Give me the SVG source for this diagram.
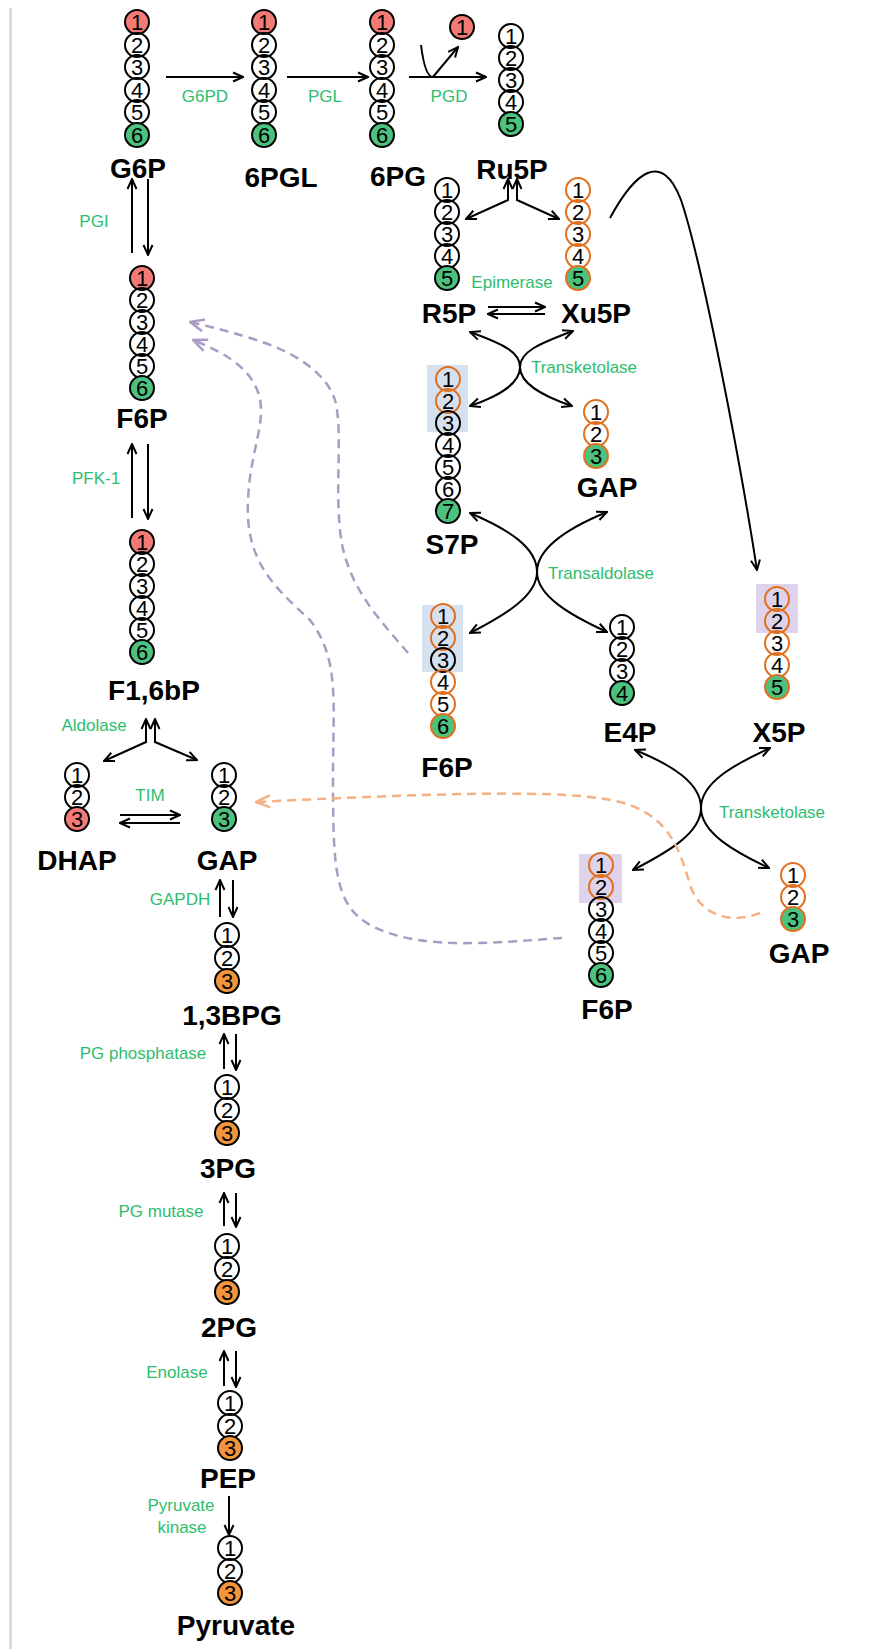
<svg xmlns="http://www.w3.org/2000/svg" width="881" height="1649" viewBox="0 0 881 1649">
<defs>
<style>
.c{fill:none;stroke:#000;stroke-width:2}
.co{fill:none;stroke:#e0701f;stroke-width:2}
.r{fill:#f47a76}
.g{fill:#4cc27e}
.of{fill:#f3953a}
.d{font-family:"Liberation Sans",Arial,sans-serif;font-size:22px;text-anchor:middle;fill:#000}
.lb{font-family:"Liberation Sans",Arial,sans-serif;font-size:28px;font-weight:bold;text-anchor:middle;fill:#000}
.en{font-family:"Liberation Sans",Arial,sans-serif;font-size:17px;text-anchor:middle;fill:#2ebd6e}
.ar{fill:none;stroke:#000;stroke-width:2;marker-end:url(#ah)}
.ar2{fill:none;stroke:#000;stroke-width:2;marker-start:url(#ah);marker-end:url(#ah)}
.pd{fill:none;stroke:#a99cc4;stroke-width:2.5;stroke-dasharray:9 6;marker-end:url(#ap)}
.od{fill:none;stroke:#f4b183;stroke-width:2.5;stroke-dasharray:9 6;marker-end:url(#ao)}
</style>
<marker id="ah" viewBox="0 0 12 12" refX="11" refY="6" markerWidth="12" markerHeight="12" markerUnits="userSpaceOnUse" orient="auto-start-reverse"><path d="M1,1.5 L11,6 L1,10.5" fill="none" stroke="#000" stroke-width="2"/></marker>
<marker id="ap" viewBox="0 0 16 16" refX="15" refY="8" markerWidth="16" markerHeight="16" markerUnits="userSpaceOnUse" orient="auto"><path d="M1,2 L15,8 L1,14" fill="none" stroke="#a99cc4" stroke-width="2.5"/></marker>
<marker id="ao" viewBox="0 0 16 16" refX="15" refY="8" markerWidth="16" markerHeight="16" markerUnits="userSpaceOnUse" orient="auto"><path d="M1,2 L15,8 L1,14" fill="none" stroke="#f4b183" stroke-width="2.5"/></marker>
</defs>
<rect x="0" y="0" width="881" height="1649" fill="#fff"/>
<line x1="10.5" y1="8" x2="10.5" y2="1649" stroke="#d4d4d4" stroke-width="2.5"/>

<!-- highlight boxes -->
<rect x="427" y="365" width="41" height="67" fill="#d6e1f0"/>
<rect x="422" y="605" width="41" height="67" fill="#d6e1f0"/>
<rect x="756" y="584" width="42" height="49" fill="#ded3ea"/>
<rect x="579" y="854" width="43" height="49" fill="#ded3ea"/>

<g id="connectors">
<!-- top row -->
<line class="ar" x1="166" y1="77" x2="243" y2="77"/>
<line class="ar" x1="287" y1="77" x2="368" y2="77"/>
<line class="ar" x1="409" y1="77" x2="486" y2="77"/>
<path class="ar" d="M421,45 Q425,77 433,77 L458,47"/>
<!-- PGI / PFK -->
<line class="ar" x1="132" y1="253" x2="132" y2="179"/>
<line class="ar" x1="148" y1="179" x2="148" y2="255"/>
<line class="ar" x1="132" y1="518" x2="132" y2="444"/>
<line class="ar" x1="148" y1="444" x2="148" y2="519"/>
<!-- Aldolase -->
<path class="ar2" d="M146,719 L146,742 L104,761"/>
<path class="ar2" d="M155,719 L155,742 L197,760"/>
<!-- TIM -->
<line class="ar" x1="120" y1="815" x2="180" y2="815"/>
<line class="ar" x1="180" y1="823" x2="120" y2="823"/>
<!-- GAPDH etc -->
<line class="ar" x1="220" y1="917" x2="220" y2="880"/>
<line class="ar" x1="233" y1="880" x2="233" y2="917"/>
<line class="ar" x1="224" y1="1069" x2="224" y2="1034"/>
<line class="ar" x1="236" y1="1034" x2="236" y2="1070"/>
<line class="ar" x1="224" y1="1226" x2="224" y2="1193"/>
<line class="ar" x1="236" y1="1193" x2="236" y2="1227"/>
<line class="ar" x1="224" y1="1386" x2="224" y2="1351"/>
<line class="ar" x1="236" y1="1351" x2="236" y2="1387"/>
<line class="ar" x1="229" y1="1496" x2="229" y2="1535"/>
<!-- Ru5P split -->
<path class="ar2" d="M508,179 L508,200 L466,219"/>
<path class="ar2" d="M517,179 L517,200 L559,219"/>
<!-- Epimerase -->
<line class="ar" x1="488" y1="307" x2="545" y2="307"/>
<line class="ar" x1="545" y1="314" x2="488" y2="314"/>
<!-- Transketolase upper -->
<path class="ar2" d="M470,332 C503,344 520,352 520,367 C520,383 540,395 572,406"/>
<path class="ar2" d="M573,331 C538,344 520,352 520,367 C520,383 502,395 470,406"/>
<!-- Transaldolase -->
<path class="ar2" d="M470,513 C510,530 537,548 537,572 C537,596 570,615 607,632"/>
<path class="ar2" d="M607,512 C568,528 537,548 537,572 C537,596 505,615 470,633"/>
<!-- Transketolase lower -->
<path class="ar2" d="M635,750 C672,765 701,783 701,808 C701,833 735,852 769,868"/>
<path class="ar2" d="M770,748 C733,765 701,783 701,808 C701,833 668,852 633,870"/>
<!-- long arrow Xu5P -> X5P -->
<path class="ar" d="M610,218 C635,172 662,150 681,200 C702,262 740,460 757,570"/>
<!-- dashed -->
<path class="pd" d="M562,938 C500,942 420,952 370,925 C335,905 333,870 333,780 C333,700 340,660 310,620 C272,585 245,560 248,500 C250,450 268,420 258,392 C248,365 222,352 193,340"/>
<path class="pd" d="M408,653 C380,620 345,585 340,530 C335,480 343,430 335,400 C325,370 290,350 250,338 C225,330 206,326 190,322"/>
<path class="od" d="M760,913 C730,925 700,915 690,885 C680,850 670,820 630,805 C590,792 520,789 256,802"/>
</g>

<g id="enzymes">
<text class="en" x="205" y="102">G6PD</text>
<text class="en" x="325" y="102">PGL</text>
<text class="en" x="449" y="102">PGD</text>
<text class="en" x="94" y="227">PGI</text>
<text class="en" x="96" y="484">PFK-1</text>
<text class="en" x="94" y="731">Aldolase</text>
<text class="en" x="150" y="801">TIM</text>
<text class="en" x="180" y="905">GAPDH</text>
<text class="en" x="143" y="1059">PG phosphatase</text>
<text class="en" x="161" y="1217">PG mutase</text>
<text class="en" x="177" y="1378">Enolase</text>
<text class="en" x="181" y="1511">Pyruvate</text>
<text class="en" x="182" y="1533">kinase</text>
<text class="en" x="512" y="288">Epimerase</text>
<text class="en" x="584" y="373">Transketolase</text>
<text class="en" x="601" y="579">Transaldolase</text>
<text class="en" x="772" y="818">Transketolase</text>
</g>

<g id="G6P">
<circle class="c r" cx="137" cy="22" r="12"/><circle class="c" cx="137" cy="45" r="12"/><circle class="c" cx="137" cy="67" r="12"/><circle class="c" cx="137" cy="90" r="12"/><circle class="c" cx="137" cy="112" r="12"/><circle class="c g" cx="137" cy="135" r="12"/>
<text class="d" x="137" y="30">1</text><text class="d" x="137" y="53">2</text><text class="d" x="137" y="75">3</text><text class="d" x="137" y="98">4</text><text class="d" x="137" y="120">5</text><text class="d" x="137" y="143">6</text>
<text class="lb" x="138" y="178">G6P</text>
</g>
<g id="PGL6">
<circle class="c r" cx="264" cy="22" r="12"/><circle class="c" cx="264" cy="45" r="12"/><circle class="c" cx="264" cy="67" r="12"/><circle class="c" cx="264" cy="90" r="12"/><circle class="c" cx="264" cy="112" r="12"/><circle class="c g" cx="264" cy="135" r="12"/>
<text class="d" x="264" y="30">1</text><text class="d" x="264" y="53">2</text><text class="d" x="264" y="75">3</text><text class="d" x="264" y="98">4</text><text class="d" x="264" y="120">5</text><text class="d" x="264" y="143">6</text>
<text class="lb" x="281" y="187">6PGL</text>
</g>
<g id="PG6">
<circle class="c r" cx="382" cy="22" r="12"/><circle class="c" cx="382" cy="45" r="12"/><circle class="c" cx="382" cy="67" r="12"/><circle class="c" cx="382" cy="90" r="12"/><circle class="c" cx="382" cy="112" r="12"/><circle class="c g" cx="382" cy="135" r="12"/>
<text class="d" x="382" y="30">1</text><text class="d" x="382" y="53">2</text><text class="d" x="382" y="75">3</text><text class="d" x="382" y="98">4</text><text class="d" x="382" y="120">5</text><text class="d" x="382" y="143">6</text>
<text class="lb" x="398" y="186">6PG</text>
</g>
<g id="CO2">
<circle class="c r" cx="462" cy="27" r="12"/><text class="d" x="462" y="35">1</text>
</g>
<g id="Ru5P">
<circle class="c" cx="511" cy="36" r="12"/><circle class="c" cx="511" cy="58" r="12"/><circle class="c" cx="511" cy="80" r="12"/><circle class="c" cx="511" cy="102" r="12"/><circle class="c g" cx="511" cy="124" r="12"/>
<text class="d" x="511" y="44">1</text><text class="d" x="511" y="66">2</text><text class="d" x="511" y="88">3</text><text class="d" x="511" y="110">4</text><text class="d" x="511" y="132">5</text>
<text class="lb" x="512" y="179">Ru5P</text>
</g>
<g id="F6P">
<circle class="c r" cx="142" cy="278" r="12"/><circle class="c" cx="142" cy="300" r="12"/><circle class="c" cx="142" cy="322" r="12"/><circle class="c" cx="142" cy="344" r="12"/><circle class="c" cx="142" cy="366" r="12"/><circle class="c g" cx="142" cy="388" r="12"/>
<text class="d" x="142" y="286">1</text><text class="d" x="142" y="308">2</text><text class="d" x="142" y="330">3</text><text class="d" x="142" y="352">4</text><text class="d" x="142" y="374">5</text><text class="d" x="142" y="396">6</text>
<text class="lb" x="142" y="428">F6P</text>
</g>
<g id="F16bP">
<circle class="c r" cx="142" cy="542" r="12"/><circle class="c" cx="142" cy="564" r="12"/><circle class="c" cx="142" cy="586" r="12"/><circle class="c" cx="142" cy="608" r="12"/><circle class="c" cx="142" cy="630" r="12"/><circle class="c g" cx="142" cy="652" r="12"/>
<text class="d" x="142" y="550">1</text><text class="d" x="142" y="572">2</text><text class="d" x="142" y="594">3</text><text class="d" x="142" y="616">4</text><text class="d" x="142" y="638">5</text><text class="d" x="142" y="660">6</text>
<text class="lb" x="154" y="700">F1,6bP</text>
</g>
<g id="DHAP">
<circle class="c" cx="77" cy="775" r="12"/><circle class="c" cx="77" cy="797" r="12"/><circle class="c r" cx="77" cy="819" r="12"/>
<text class="d" x="77" y="783">1</text><text class="d" x="77" y="805">2</text><text class="d" x="77" y="827">3</text>
<text class="lb" x="77" y="870">DHAP</text>
</g>
<g id="GAP1">
<circle class="c" cx="224" cy="775" r="12"/><circle class="c" cx="224" cy="797" r="12"/><circle class="c g" cx="224" cy="819" r="12"/>
<text class="d" x="224" y="783">1</text><text class="d" x="224" y="805">2</text><text class="d" x="224" y="827">3</text>
<text class="lb" x="227" y="870">GAP</text>
</g>
<g id="BPG13">
<circle class="c" cx="227" cy="935" r="12"/><circle class="c" cx="227" cy="958" r="12"/><circle class="c of" cx="227" cy="981" r="12"/>
<text class="d" x="227" y="943">1</text><text class="d" x="227" y="966">2</text><text class="d" x="227" y="989">3</text>
<text class="lb" x="232" y="1025">1,3BPG</text>
</g>
<g id="PG3">
<circle class="c" cx="227" cy="1087" r="12"/><circle class="c" cx="227" cy="1110" r="12"/><circle class="c of" cx="227" cy="1133" r="12"/>
<text class="d" x="227" y="1095">1</text><text class="d" x="227" y="1118">2</text><text class="d" x="227" y="1141">3</text>
<text class="lb" x="228" y="1178">3PG</text>
</g>
<g id="PG2">
<circle class="c" cx="227" cy="1246" r="12"/><circle class="c" cx="227" cy="1269" r="12"/><circle class="c of" cx="227" cy="1292" r="12"/>
<text class="d" x="227" y="1254">1</text><text class="d" x="227" y="1277">2</text><text class="d" x="227" y="1300">3</text>
<text class="lb" x="229" y="1337">2PG</text>
</g>
<g id="PEP">
<circle class="c" cx="230" cy="1403" r="12"/><circle class="c" cx="230" cy="1426" r="12"/><circle class="c of" cx="230" cy="1448" r="12"/>
<text class="d" x="230" y="1411">1</text><text class="d" x="230" y="1434">2</text><text class="d" x="230" y="1456">3</text>
<text class="lb" x="228" y="1488">PEP</text>
</g>
<g id="Pyruvate">
<circle class="c" cx="230" cy="1548" r="12"/><circle class="c" cx="230" cy="1571" r="12"/><circle class="c of" cx="230" cy="1593" r="12"/>
<text class="d" x="230" y="1556">1</text><text class="d" x="230" y="1579">2</text><text class="d" x="230" y="1601">3</text>
<text class="lb" x="236" y="1635">Pyruvate</text>
</g>
<g id="R5P">
<circle class="c" cx="447" cy="190" r="12"/><circle class="c" cx="447" cy="212" r="12"/><circle class="c" cx="447" cy="234" r="12"/><circle class="c" cx="447" cy="256" r="12"/><circle class="c g" cx="447" cy="278" r="12"/>
<text class="d" x="447" y="198">1</text><text class="d" x="447" y="220">2</text><text class="d" x="447" y="242">3</text><text class="d" x="447" y="264">4</text><text class="d" x="447" y="286">5</text>
<text class="lb" x="449" y="323">R5P</text>
</g>
<g id="Xu5P">
<circle class="co" cx="578" cy="190" r="12"/><circle class="co" cx="578" cy="212" r="12"/><circle class="co" cx="578" cy="234" r="12"/><circle class="co" cx="578" cy="256" r="12"/><circle class="co g" cx="578" cy="278" r="12"/>
<text class="d" x="578" y="198">1</text><text class="d" x="578" y="220">2</text><text class="d" x="578" y="242">3</text><text class="d" x="578" y="264">4</text><text class="d" x="578" y="286">5</text>
<text class="lb" x="596" y="323">Xu5P</text>
</g>
<g id="S7P">
<circle class="co" cx="448" cy="379" r="12"/><circle class="co" cx="448" cy="401" r="12"/><circle class="c" cx="448" cy="423" r="12"/><circle class="c" cx="448" cy="445" r="12"/><circle class="c" cx="448" cy="467" r="12"/><circle class="c" cx="448" cy="489" r="12"/><circle class="c g" cx="448" cy="511" r="12"/>
<text class="d" x="448" y="387">1</text><text class="d" x="448" y="409">2</text><text class="d" x="448" y="431">3</text><text class="d" x="448" y="453">4</text><text class="d" x="448" y="475">5</text><text class="d" x="448" y="497">6</text><text class="d" x="448" y="519">7</text>
<text class="lb" x="452" y="554">S7P</text>
</g>
<g id="GAP2">
<circle class="co" cx="596" cy="412" r="12"/><circle class="co" cx="596" cy="434" r="12"/><circle class="co g" cx="596" cy="456" r="12"/>
<text class="d" x="596" y="420">1</text><text class="d" x="596" y="442">2</text><text class="d" x="596" y="464">3</text>
<text class="lb" x="607" y="497">GAP</text>
</g>
<g id="F6P2">
<circle class="co" cx="443" cy="616" r="12"/><circle class="co" cx="443" cy="638" r="12"/><circle class="c" cx="443" cy="660" r="12"/><circle class="co" cx="443" cy="682" r="12"/><circle class="co" cx="443" cy="704" r="12"/><circle class="co g" cx="443" cy="726" r="12"/>
<text class="d" x="443" y="624">1</text><text class="d" x="443" y="646">2</text><text class="d" x="443" y="668">3</text><text class="d" x="443" y="690">4</text><text class="d" x="443" y="712">5</text><text class="d" x="443" y="734">6</text>
<text class="lb" x="447" y="777">F6P</text>
</g>
<g id="E4P">
<circle class="c" cx="622" cy="627" r="12"/><circle class="c" cx="622" cy="649" r="12"/><circle class="c" cx="622" cy="671" r="12"/><circle class="c g" cx="622" cy="693" r="12"/>
<text class="d" x="622" y="635">1</text><text class="d" x="622" y="657">2</text><text class="d" x="622" y="679">3</text><text class="d" x="622" y="701">4</text>
<text class="lb" x="630" y="742">E4P</text>
</g>
<g id="X5P">
<circle class="co" cx="777" cy="599" r="12"/><circle class="co" cx="777" cy="621" r="12"/><circle class="co" cx="777" cy="643" r="12"/><circle class="co" cx="777" cy="665" r="12"/><circle class="co g" cx="777" cy="687" r="12"/>
<text class="d" x="777" y="607">1</text><text class="d" x="777" y="629">2</text><text class="d" x="777" y="651">3</text><text class="d" x="777" y="673">4</text><text class="d" x="777" y="695">5</text>
<text class="lb" x="779" y="742">X5P</text>
</g>
<g id="F6P3">
<circle class="co" cx="601" cy="865" r="12"/><circle class="co" cx="601" cy="887" r="12"/><circle class="c" cx="601" cy="909" r="12"/><circle class="c" cx="601" cy="931" r="12"/><circle class="c" cx="601" cy="953" r="12"/><circle class="c g" cx="601" cy="975" r="12"/>
<text class="d" x="601" y="873">1</text><text class="d" x="601" y="895">2</text><text class="d" x="601" y="917">3</text><text class="d" x="601" y="939">4</text><text class="d" x="601" y="961">5</text><text class="d" x="601" y="983">6</text>
<text class="lb" x="607" y="1019">F6P</text>
</g>
<g id="GAP3">
<circle class="co" cx="793" cy="875" r="12"/><circle class="co" cx="793" cy="897" r="12"/><circle class="co g" cx="793" cy="919" r="12"/>
<text class="d" x="793" y="883">1</text><text class="d" x="793" y="905">2</text><text class="d" x="793" y="927">3</text>
<text class="lb" x="799" y="963">GAP</text>
</g>
</svg>
